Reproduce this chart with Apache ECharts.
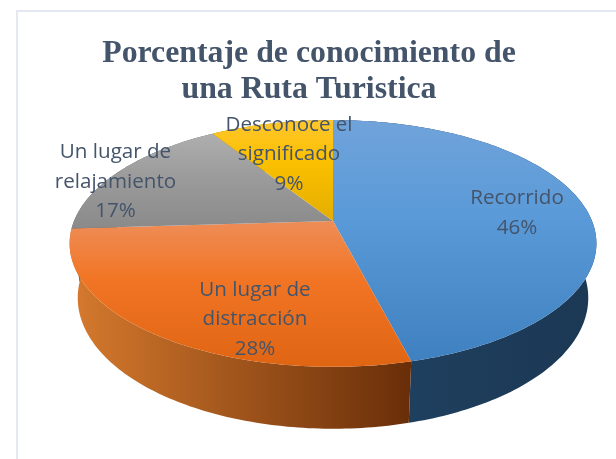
<!DOCTYPE html>
<html>
<head>
<meta charset="utf-8">
<style>html,body{margin:0;padding:0;background:#fff}#c{width:616px;height:459px}</style>
<script src="https://cdn.jsdelivr.net/npm/echarts@6/dist/echarts.min.js"></script>
</head>
<body>
<div id="c"></div>
<script>
const titleText = 'Porcentaje de conocimiento de\nuna Ruta Turistica';
const categories = ['Recorrido', 'Un lugar de\ndistracción', 'Un lugar de\nrelajamiento', 'Desconoce el\nsignificado'];
const percentages = [46, 28, 17, 9];

const TEXT_COLOR = '#44546a';
const topColors = [
  ['#70a3da', '#5a9ad8', '#3f80c0'],
  ['#ee8d58', '#f17524', '#e06513'],
  ['#afafaf', '#9d9d9d', '#8a8a8a'],
  ['#ffc62e', '#fbc000', '#e4ae00']
];
const sideColors = [
  ['#1f3f5e', '#1b3854', 416, 595],
  ['#d67a2e', '#672d08', 70, 416],
  ['#6b6b6b', '#555555', 70, 220],
  ['#997300', '#806000', 220, 333]
];
// Text anchor of each label block, in page pixels
const labelAnchors = [[517, 213], [255, 319.5], [115.5, 182], [289, 154.5]];

// Perspective view of a flat disc: the apex sits above the middle of the drawn ellipse
const CX = 333, PERSP = 0.182;
const rim = { top: { r: 259, a: -79.1, b: 221 }, bottom: { r: 251, a: -76.7, b: 274 } };
function project(level, deg) {
  const t = deg * Math.PI / 180, u = Math.sin(t), v = Math.cos(t), d = PERSP * v + 1;
  return [CX + level.r * u / d, (level.a * v + level.b) / d];
}
function arc(level, from, to) {
  const pts = [];
  const n = Math.max(2, Math.ceil(to - from));
  for (let i = 0; i <= n; i++) pts.push(project(level, from + (to - from) * i / n));
  return pts;
}

const total = percentages.reduce((s, x) => s + x, 0);
function sliceRange(i) {
  let acc = 0;
  for (let k = 0; k < i; k++) acc += percentages[k];
  return [acc / total * 360, (acc + percentages[i]) / total * 360];
}
const seriesData = percentages.map((value, i) => ({ name: categories[i].replace('\n', ' '), value: [i, value] }));

function renderItem(params, api) {
  const i = api.value(0);
  const share = Math.round(api.value(1) / total * 100);
  const [from, to] = sliceRange(i);
  const topArc = arc(rim.top, from, to);
  const bottomArc = arc(rim.bottom, from, to);
  const apex = [CX, rim.top.b];
  const ys = topArc.concat([apex]).map(p => p[1]);
  const y0 = Math.min.apply(null, ys), y1 = Math.max.apply(null, ys);
  const tc = topColors[i], sc = sideColors[i];
  return {
    type: 'group',
    children: [
      {
        type: 'polygon', z2: 1,
        shape: { points: topArc.concat(bottomArc.slice().reverse()) },
        style: { fill: new echarts.graphic.LinearGradient(sc[2], 0, sc[3], 0, [{ offset: 0, color: sc[0] }, { offset: 1, color: sc[1] }], true) }
      },
      {
        type: 'polygon', z2: 2,
        shape: { points: topArc.concat([apex]) },
        style: { fill: new echarts.graphic.LinearGradient(0, y0, 0, y1, [
          { offset: 0, color: tc[0] }, { offset: 0.4, color: tc[1] }, { offset: 1, color: tc[2] }
        ], true) }
      },
      {
        type: 'text', z2: 10,
        x: labelAnchors[i][0], y: labelAnchors[i][1],
        style: {
          text: categories[i] + '\n' + share + '%',
          fill: TEXT_COLOR, font: '20.6px "Open Sans"',
          lineHeight: 29.5, align: 'center', verticalAlign: 'middle'
        }
      }
    ]
  };
}

const chart = echarts.init(document.getElementById('c'), null, { renderer: 'canvas' });
chart.setOption({
  animation: false,
  backgroundColor: '#ffffff',
  title: {
    text: titleText, left: 304, top: 31, textAlign: 'center',
    textStyle: { fontFamily: '"Liberation Serif"', fontWeight: 'bold', fontSize: 31.8, lineHeight: 36, color: TEXT_COLOR }
  },
  graphic: [{
    type: 'polyline', silent: true,
    shape: { points: [[17, 459], [17, 11], [616, 11]] },
    style: { stroke: '#e3e8f1', lineWidth: 2, fill: 'none' }
  }],
  series: [{ type: 'custom', coordinateSystem: 'none', silent: true, renderItem, data: seriesData }]
});
</script>
</body>
</html>
